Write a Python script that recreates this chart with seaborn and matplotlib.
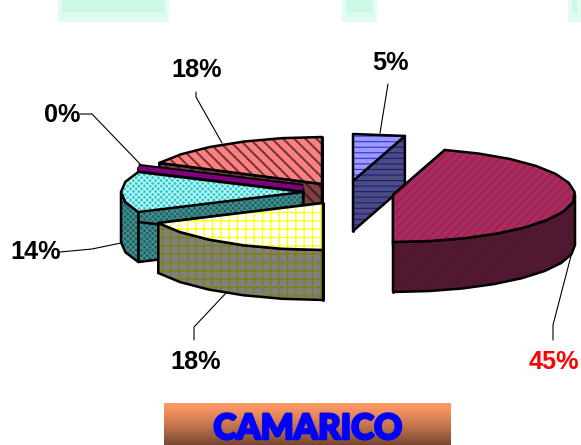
from __future__ import annotations

import matplotlib
import numpy as np
import seaborn as sns

matplotlib.use("Agg")
import matplotlib.pyplot as plt
from matplotlib.patches import Polygon, Rectangle
import matplotlib.patheffects as pe

# clockwise from 12 o'clock
slice_values = [4.6, 45.4, 18.0, 14.0, 0.4, 17.6]
label_colors = ["black", "red", "black", "black", "black", "black"]

# where each exploded slice has its centre, in pixels
slice_centers = [(353, 181), (393, 195), (323, 203), (303, 192), (303, 188), (322, 184)]
top_colors = ["#9999ff", "#993366", "#ffffff", "#33cccc", "#800080", "#ff8080"]
top_hatch_colors = ["#3333cc", "#cc0a3c", "#ffff00", "#ccffff", "#800080", "#703838"]
side_colors = ["#4c4c80", "#4c1a33", "#808080", "#1a6666", "#400040", "#804040"]
side_hatch_colors = ["#1a1a80", "#60102c", "#808000", "#4c9090", "#400040", "#402020"]
hatches = ["---", "////", "++", "xxxxxx", "", "\\\\\\"]
hatch_widths = [0.8, 1.0, 0.9, 0.8, 0.8, 1.5]
draw_order = [0, 1, 5, 4, 3, 2]

# label centre, then leader line points
label_pos = [(390, 63), (554, 362), (196, 362), (36, 252), (62, 115), (197, 70)]
leaders = [
    [(388, 84), (380, 133)],
    [(553, 340), (553, 325), (572, 252)],
    [(194, 340), (194, 327), (226, 293)],
    [(60, 252), (92, 249), (121, 243)],
    [(80, 114), (92, 114), (142, 166)],
    [(196, 92), (196, 97), (222, 143)],
]

RX, RY, DEPTH = 182, 47, 50
RIM_STEP = 12

# pale boxes bleeding in from the top
top_boxes = [(58, 111), (342, 35), (568, 13)]
title = "CAMARICO"


def rim(center, a0, a1):
    n = max(int(round((a1 - a0) / RIM_STEP)), 1)
    a = np.radians(np.linspace(a0, a1, n + 1))
    return np.column_stack([center[0] + RX * np.sin(a), center[1] - RY * np.cos(a)])


def face(ax, pts, color, hatch_color, i, lw=1.8):
    with plt.rc_context({"hatch.linewidth": hatch_widths[i]}):
        ax.add_patch(Polygon(pts, closed=True, facecolor=color, edgecolor=hatch_color, hatch=hatches[i], lw=0))
    ax.add_patch(Polygon(pts, closed=True, fill=False, edgecolor="black", lw=lw, joinstyle="round"))


def wall(ax, top_edge, i):
    pts = np.vstack([top_edge, (top_edge + [0, DEPTH])[::-1]])
    face(ax, pts, side_colors[i], side_hatch_colors[i], i)


def draw_slice(ax, i, a0, a1):
    c = np.array(slice_centers[i], dtype=float)
    edge = rim(c, a0, a1)
    # cut faces, then the front of the rim
    wall(ax, np.array([c, edge[0]]), i)
    wall(ax, np.array([c, edge[-1]]), i)
    f0, f1 = max(a0, 90), min(a1, 270)
    if f1 > f0:
        wall(ax, rim(c, f0, f1), i)
    if slice_values[i] < 1:
        # too thin to show as a wedge, keep it as a thick spoke
        spoke = np.array([c, edge[0]])
        ax.plot(spoke[:, 0], spoke[:, 1], color=top_colors[i], lw=3.2, solid_capstyle="butt",
                path_effects=[pe.Stroke(linewidth=6, foreground="black"), pe.Normal()])
    else:
        face(ax, np.vstack([c, edge]), top_colors[i], top_hatch_colors[i], i)


def main() -> None:
    sns.set_theme(style="white")
    plt.rcParams["font.family"] = ["Liberation Sans", "DejaVu Sans"]

    fig = plt.figure(figsize=(5.81, 4.45), dpi=100)
    ax = fig.add_axes([0, 0, 1, 1])
    ax.set_xlim(0, 581)
    ax.set_ylim(445, 0)
    ax.axis("off")

    for x, w in top_boxes:
        ax.add_patch(Rectangle((x, 0), w, 22, facecolor="#e2fcf0", edgecolor="none"))
        ax.add_patch(Rectangle((x + 4, 0), w - 8, 17, facecolor="#d8fbea", edgecolor="none"))
        ax.add_patch(Rectangle((x + 4, 0), w - 8, 12, facecolor="#ccf9e4", edgecolor="none"))

    edges = np.concatenate([[0], np.cumsum(slice_values)]) / np.sum(slice_values) * 360
    for i in draw_order:
        draw_slice(ax, i, edges[i], edges[i + 1])

    for i, pos in enumerate(label_pos):
        pts = np.array(leaders[i])
        ax.plot(pts[:, 0], pts[:, 1], color="black", lw=0.8)
        ax.text(pos[0], pos[1], f"{round(slice_values[i])}%", color=label_colors[i],
                fontsize=18.2, fontweight="bold", ha="center", va="center")

    grad = np.linspace(0, 1, 42)[:, None, None]
    start = np.array([1.0, 0.6, 0.4])[None, None, :]
    stop = np.array([0.47, 0.28, 0.19])[None, None, :]
    ax.imshow(start + (stop - start) * grad ** 1.3, extent=(164, 451, 445, 403), aspect="auto", zorder=3)
    ax.set_xlim(0, 581)
    ax.set_ylim(445, 0)
    ax.text(308, 429, title, color="#0000ff", fontsize=25, fontweight="black", family=["Lato", "DejaVu Sans"],
            ha="center", va="center", zorder=4,
            path_effects=[pe.withStroke(linewidth=1.8, foreground="#0000ff")])

    fig.savefig("out.png", dpi=100)
    plt.close(fig)


if __name__ == "__main__":
    main()
